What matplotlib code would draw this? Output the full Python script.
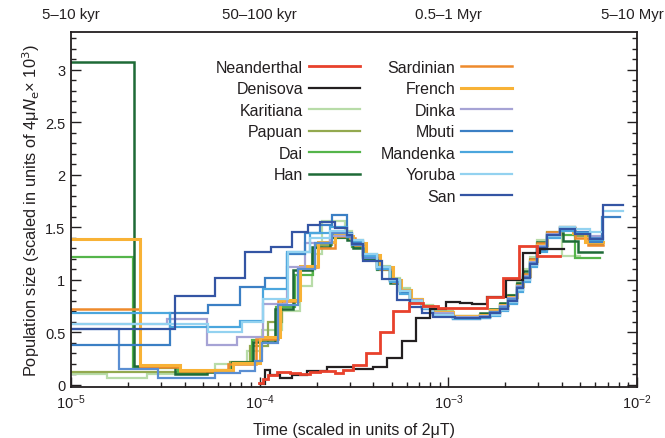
import matplotlib
matplotlib.use("Agg")
import matplotlib.pyplot as plt
import matplotlib.transforms as mtransforms
from matplotlib.lines import Line2D
from matplotlib.ticker import FixedLocator, MultipleLocator

plt.rcParams['font.family'] = ['Liberation Sans', 'DejaVu Sans']

# ---- data (time in units of 2uT, left edges + final right edge; size in 4uNe x 10^3) ----
nean_t = [9.90e-5, 1.04e-4, 1.11e-4, 1.23e-4, 1.45e-4, 1.64e-4, 1.85e-4, 2.09e-4, 2.50e-4, 2.77e-4,
          3.12e-4, 3.66e-4, 4.35e-4, 5.08e-4, 6.19e-4, 7.33e-4, 8.78e-4, 1.60e-3, 1.94e-3, 2.36e-3,
          2.95e-3, 3.90e-3]
nean_n = [0.02, 0.06, 0.09, 0.12, 0.11, 0.10, 0.12, 0.13, 0.11, 0.14, 0.19, 0.30, 0.50, 0.70, 0.78,
          0.75, 0.73, 0.84, 1.02, 1.32, 1.23]

deni_t = [1.00e-4, 1.07e-4, 1.14e-4, 1.28e-4, 1.48e-4, 1.78e-4, 2.27e-4, 3.12e-4, 3.98e-4, 4.71e-4,
          5.68e-4, 6.72e-4, 8.00e-4, 9.70e-4, 1.15e-3, 1.33e-3, 1.60e-3, 2.03e-3, 2.48e-3, 3.05e-3,
          4.10e-3]
deni_n = [0.01, 0.14, 0.09, 0.07, 0.09, 0.13, 0.17, 0.15, 0.17, 0.26, 0.42, 0.64, 0.72, 0.79, 0.78,
          0.77, 0.84, 1.00, 1.26, 1.29]

kari_t = [1.0e-5, 1.55e-5, 2.53e-5, 3.78e-5, 5.79e-5, 8.55e-5, 1.03e-4, 1.31e-4, 1.64e-4, 1.89e-4,
          2.14e-4, 2.83e-4, 3.08e-4, 3.52e-4, 4.18e-4, 4.91e-4, 5.55e-4, 6.27e-4, 7.24e-4, 8.28e-4,
          1.06e-3, 1.47e-3, 1.66e-3, 1.88e-3, 2.07e-3, 2.31e-3, 2.48e-3, 2.70e-3, 2.95e-3, 3.33e-3,
          4.00e-3, 4.98e-3]
kari_n = [0.10, 0.07, 0.10, 0.12, 0.20, 0.32, 0.52, 0.70, 0.94, 1.25, 1.56, 1.47, 1.38, 1.25, 1.13,
          1.02, 0.92, 0.82, 0.76, 0.70, 0.66, 0.67, 0.71, 0.77, 0.86, 0.98, 1.10, 1.22, 1.38, 1.41, 1.23]

papu_t = [1.0e-5, 3.78e-5, 5.79e-5, 6.97e-5, 8.90e-5, 1.11e-4, 1.31e-4, 1.59e-4, 1.96e-4, 2.42e-4,
          2.90e-4, 3.08e-4, 3.52e-4, 4.18e-4, 4.91e-4, 5.55e-4, 6.27e-4, 7.24e-4, 8.28e-4, 1.06e-3,
          1.47e-3, 1.66e-3, 1.88e-3, 2.07e-3, 2.31e-3, 2.48e-3, 2.70e-3, 2.95e-3, 3.33e-3, 3.90e-3,
          4.69e-3, 5.62e-3, 6.59e-3]
papu_n = [0.12, 0.12, 0.14, 0.22, 0.37, 0.60, 0.80, 1.10, 1.33, 1.44, 1.40, 1.33, 1.22, 1.11, 1.00,
          0.90, 0.81, 0.75, 0.69, 0.66, 0.67, 0.70, 0.76, 0.84, 0.95, 1.05, 1.17, 1.33, 1.46, 1.50,
          1.42, 1.33]

dai_t = [1.0e-5, 2.13e-5, 3.69e-5, 5.26e-5, 7.13e-5, 9.10e-5, 1.22e-4, 1.53e-4, 1.91e-4, 2.36e-4,
         2.83e-4, 3.08e-4, 3.52e-4, 4.18e-4, 4.91e-4, 5.55e-4, 6.27e-4, 7.24e-4, 8.28e-4, 1.06e-3,
         1.47e-3, 1.66e-3, 1.88e-3, 2.07e-3, 2.31e-3, 2.48e-3, 2.70e-3, 2.95e-3, 3.33e-3, 3.90e-3,
         4.69e-3, 6.35e-3]
dai_n = [1.22, 0.16, 0.11, 0.13, 0.20, 0.43, 0.74, 1.05, 1.30, 1.40, 1.40, 1.31, 1.21, 1.09, 0.99,
         0.89, 0.79, 0.74, 0.69, 0.65, 0.67, 0.71, 0.77, 0.85, 0.96, 1.06, 1.19, 1.35, 1.45, 1.43, 1.21]

han_t = [1.0e-5, 2.16e-5, 3.56e-5, 5.26e-5, 7.13e-5, 9.21e-5, 1.21e-4, 1.50e-4, 1.89e-4, 2.36e-4,
         2.90e-4, 3.12e-4, 3.52e-4, 4.18e-4, 4.91e-4, 5.55e-4, 6.27e-4, 7.24e-4, 8.28e-4, 1.06e-3,
         1.47e-3, 1.66e-3, 1.88e-3, 2.07e-3, 2.31e-3, 2.48e-3, 2.70e-3, 2.95e-3, 3.33e-3, 4.04e-3,
         4.86e-3, 6.52e-3]
han_n = [3.07, 0.18, 0.10, 0.12, 0.22, 0.41, 0.72, 1.09, 1.31, 1.41, 1.38, 1.30, 1.20, 1.10, 0.97,
         0.88, 0.80, 0.73, 0.68, 0.66, 0.68, 0.72, 0.78, 0.86, 0.97, 1.08, 1.20, 1.36, 1.45, 1.37, 1.27]

sard_t = [1.0e-5, 2.32e-5, 3.78e-5, 6.79e-5, 9.55e-5, 1.25e-4, 1.59e-4, 2.03e-4, 2.50e-4, 3.01e-4,
          3.20e-4, 3.66e-4, 4.35e-4, 5.08e-4, 5.61e-4, 6.34e-4, 7.24e-4, 8.28e-4, 1.06e-3, 1.47e-3,
          1.66e-3, 1.88e-3, 2.07e-3, 2.31e-3, 2.48e-3, 2.70e-3, 2.95e-3, 3.33e-3, 3.90e-3, 4.69e-3,
          5.50e-3, 6.59e-3]
sard_n = [0.72, 0.17, 0.13, 0.20, 0.44, 0.80, 1.12, 1.30, 1.42, 1.40, 1.33, 1.22, 1.10, 0.98, 0.89,
          0.80, 0.74, 0.68, 0.65, 0.66, 0.70, 0.76, 0.84, 0.95, 1.06, 1.20, 1.35, 1.46, 1.49, 1.40, 1.33]

fren_t = [1.0e-5, 2.32e-5, 3.78e-5, 7.20e-5, 1.00e-4, 1.28e-4, 1.64e-4, 2.03e-4, 2.50e-4, 2.90e-4,
          3.12e-4, 3.66e-4, 4.35e-4, 5.08e-4, 5.61e-4, 6.34e-4, 7.24e-4, 8.28e-4, 1.06e-3, 1.47e-3,
          1.66e-3, 1.88e-3, 2.07e-3, 2.31e-3, 2.48e-3, 2.70e-3, 2.95e-3, 3.33e-3, 3.90e-3, 4.57e-3,
          5.30e-3, 6.59e-3]
fren_n = [1.39, 0.19, 0.14, 0.21, 0.46, 0.81, 1.13, 1.36, 1.44, 1.42, 1.35, 1.24, 1.12, 1.00, 0.90,
          0.82, 0.75, 0.69, 0.66, 0.67, 0.71, 0.76, 0.84, 0.94, 1.04, 1.18, 1.33, 1.44, 1.50, 1.45, 1.36]

dink_t = [1.0e-5, 3.23e-5, 5.26e-5, 7.58e-5, 1.04e-4, 1.39e-4, 1.74e-4, 2.36e-4, 2.90e-4, 3.08e-4,
          3.52e-4, 4.18e-4, 4.91e-4, 5.55e-4, 6.27e-4, 7.24e-4, 8.28e-4, 1.06e-3, 1.47e-3, 1.66e-3,
          1.88e-3, 2.07e-3, 2.31e-3, 2.48e-3, 2.70e-3, 2.95e-3, 3.33e-3, 3.90e-3, 4.69e-3, 5.62e-3,
          6.59e-3]
dink_n = [0.58, 0.63, 0.38, 0.46, 0.77, 1.12, 1.35, 1.42, 1.41, 1.35, 1.24, 1.11, 0.99, 0.89, 0.81,
          0.74, 0.68, 0.65, 0.66, 0.69, 0.75, 0.83, 0.94, 1.04, 1.17, 1.32, 1.44, 1.50, 1.46, 1.42]

mbut_t = [1.0e-5, 3.35e-5, 5.32e-5, 7.87e-5, 1.07e-4, 1.39e-4, 1.74e-4, 2.09e-4, 2.42e-4, 2.90e-4,
          3.08e-4, 3.52e-4, 4.18e-4, 4.91e-4, 5.55e-4, 6.27e-4, 7.24e-4, 8.28e-4, 1.06e-3, 1.47e-3,
          1.66e-3, 1.88e-3, 2.07e-3, 2.31e-3, 2.48e-3, 2.70e-3, 2.95e-3, 3.33e-3, 3.90e-3, 4.69e-3,
          5.62e-3, 6.52e-3, 8.11e-3]
mbut_n = [0.38, 0.68, 0.76, 0.93, 1.02, 1.25, 1.45, 1.52, 1.62, 1.45, 1.36, 1.24, 1.12, 1.00, 0.88,
          0.79, 0.72, 0.67, 0.63, 0.64, 0.67, 0.71, 0.78, 0.90, 1.00, 1.14, 1.28, 1.42, 1.49, 1.46,
          1.36, 1.60]

# second medium-blue trace seen in the figure (not named in the legend)
mbut2_t = [1.0e-5, 1.80e-5, 2.89e-5, 5.79e-5, 7.87e-5, 9.44e-5, 1.03e-4, 1.25e-4, 1.59e-4, 1.96e-4,
           2.42e-4, 2.90e-4, 3.08e-4, 3.52e-4, 4.18e-4, 4.91e-4, 5.55e-4, 6.27e-4, 7.24e-4, 8.28e-4,
           1.06e-3, 1.47e-3, 1.66e-3, 1.88e-3, 2.07e-3, 2.31e-3, 2.48e-3, 2.70e-3, 2.95e-3, 3.33e-3,
           3.90e-3, 4.69e-3, 5.62e-3, 6.59e-3]
mbut2_n = [0.53, 0.15, 0.07, 0.11, 0.13, 0.23, 0.40, 0.76, 1.10, 1.35, 1.45, 1.41, 1.33, 1.21, 1.10,
           0.99, 0.89, 0.80, 0.73, 0.67, 0.64, 0.65, 0.69, 0.74, 0.82, 0.93, 1.03, 1.16, 1.31, 1.43,
           1.49, 1.45, 1.40]

mand_t = [1.0e-5, 3.35e-5, 7.87e-5, 1.04e-4, 1.39e-4, 1.85e-4, 2.36e-4, 2.90e-4, 3.08e-4, 3.52e-4,
          4.18e-4, 4.91e-4, 5.55e-4, 6.27e-4, 7.24e-4, 8.28e-4, 1.06e-3, 1.47e-3, 1.66e-3, 1.88e-3,
          2.07e-3, 2.31e-3, 2.48e-3, 2.70e-3, 2.95e-3, 3.33e-3, 3.90e-3, 4.69e-3, 5.62e-3, 6.59e-3]
mand_n = [0.68, 0.55, 0.61, 0.91, 1.27, 1.45, 1.50, 1.44, 1.37, 1.23, 1.10, 0.98, 0.87, 0.79, 0.72,
          0.66, 0.63, 0.64, 0.66, 0.70, 0.77, 0.88, 0.98, 1.12, 1.27, 1.40, 1.47, 1.45, 1.38]

yoru_t = [1.0e-5, 5.32e-5, 8.06e-5, 1.04e-4, 1.41e-4, 1.85e-4, 2.36e-4, 2.90e-4, 3.08e-4, 3.52e-4,
          4.18e-4, 4.91e-4, 5.55e-4, 6.27e-4, 7.24e-4, 8.28e-4, 1.06e-3, 1.47e-3, 1.66e-3, 1.88e-3,
          2.07e-3, 2.31e-3, 2.48e-3, 2.70e-3, 2.95e-3, 3.33e-3, 3.90e-3, 4.69e-3, 5.62e-3, 6.59e-3,
          8.41e-3]
yoru_n = [0.58, 0.50, 0.60, 0.82, 1.27, 1.40, 1.47, 1.44, 1.38, 1.25, 1.12, 1.00, 0.89, 0.80, 0.73,
          0.67, 0.64, 0.65, 0.67, 0.71, 0.79, 0.90, 1.00, 1.14, 1.29, 1.42, 1.50, 1.48, 1.46, 1.66]

san_t = [1.0e-5, 3.56e-5, 5.79e-5, 8.36e-5, 1.15e-4, 1.48e-4, 1.80e-4, 2.09e-4, 2.50e-4, 2.90e-4,
         3.08e-4, 3.52e-4, 4.45e-4, 5.34e-4, 6.27e-4, 7.24e-4, 8.28e-4, 1.08e-3, 1.47e-3, 1.66e-3,
         1.88e-3, 2.07e-3, 2.31e-3, 2.48e-3, 2.70e-3, 2.95e-3, 3.33e-3, 3.90e-3, 4.69e-3, 5.62e-3,
         6.59e-3, 8.41e-3]
san_n = [0.53, 0.85, 1.02, 1.27, 1.31, 1.46, 1.52, 1.55, 1.49, 1.43, 1.34, 1.18, 1.01, 0.81, 0.74,
         0.68, 0.65, 0.64, 0.65, 0.68, 0.72, 0.80, 0.92, 1.02, 1.15, 1.30, 1.43, 1.48, 1.44, 1.39, 1.71]

names_col1 = ['Neanderthal', 'Denisova', 'Karitiana', 'Papuan', 'Dai', 'Han']
names_col2 = ['Sardinian', 'French', 'Dinka', 'Mbuti', 'Mandenka', 'Yoruba', 'San']
top_tick_labels = ['5\u201310 kyr', '50\u2013100 kyr', '0.5\u20131 Myr', '5\u201310 Myr']
top_tick_pos = [1e-5, 1e-4, 1e-3, 1e-2]

series = {
    'Neanderthal': (nean_t, nean_n, '#e8412c', 2.0),
    'Denisova': (deni_t, deni_n, '#231f20', 1.6),
    'Karitiana': (kari_t, kari_n, '#b8dca8', 1.6),
    'Papuan': (papu_t, papu_n, '#93a94f', 1.6),
    'Dai': (dai_t, dai_n, '#55b54a', 1.6),
    'Han': (han_t, han_n, '#1e6a37', 1.8),
    'Sardinian': (sard_t, sard_n, '#ee8a2c', 1.8),
    'French': (fren_t, fren_n, '#f8b236', 2.2),
    'Dinka': (dink_t, dink_n, '#a6a3d5', 1.6),
    'Mbuti': (mbut_t, mbut_n, '#3b7fc4', 1.6),
    '_mbuti2': (mbut2_t, mbut2_n, '#5a8ed2', 1.6),
    'Mandenka': (mand_t, mand_n, '#4ba6dd', 1.6),
    'Yoruba': (yoru_t, yoru_n, '#93d2f0', 1.6),
    'San': (san_t, san_n, '#3455a4', 1.6),
}

fig = plt.figure(figsize=(6.65, 4.39), dpi=100)
ax = fig.add_axes([0.1068, 0.1162, 0.8512, 0.8086])

draw_order = ['Karitiana', 'Papuan', 'Dai', 'Han', 'Sardinian', 'French', 'Dinka', '_mbuti2',
              'Mbuti', 'Mandenka', 'Yoruba', 'San', 'Denisova', 'Neanderthal']
handles = {}
for name in draw_order:
    t, n, c, lw = series[name]
    h, = ax.plot(t, list(n) + [n[-1]], drawstyle='steps-post', color=c, lw=lw,
                 solid_joinstyle='miter', label=name)
    handles[name] = h

ax.set_xscale('log')
ax.set_xlim(1e-5, 1e-2)
ax.set_ylim(-0.02, 3.36)

ax.yaxis.set_major_locator(MultipleLocator(0.5))
ax.yaxis.set_minor_locator(MultipleLocator(0.1))
ax.set_yticks([0, 0.5, 1, 1.5, 2, 2.5, 3])
ax.set_yticklabels(['0', '0.5', '1', '1.5', '2', '2.5', '3'])

for s in ax.spines.values():
    s.set_linewidth(1.3)
    s.set_color('#231f20')

ax.tick_params(which='both', direction='in', top=True, right=True, labeltop=False,
               color='#231f20', width=1.0, labelsize=10.5, labelcolor='#231f20')
ax.tick_params(which='major', length=7, pad=4)
ax.tick_params(which='minor', length=3.5)

ax.set_xlabel('Time (scaled in units of 2\u03bcT)', fontsize=11.5, color='#231f20', labelpad=8)
ax.set_ylabel('Population size (scaled in units of 4\u03bc$N_{\\rm e}$\u00d7 10$^{3}$)',
              fontsize=11.8, color='#231f20', labelpad=2)

top = ax.twiny()
top.set_xscale('log')
top.set_xlim(ax.get_xlim())
top.xaxis.set_major_locator(FixedLocator(top_tick_pos))
top.xaxis.set_minor_locator(FixedLocator([]))
top.set_xticklabels(top_tick_labels)
top.tick_params(which='both', direction='in', length=0, pad=8, labelsize=10.8,
                labelcolor='#231f20')
for s in top.spines.values():
    s.set_visible(False)
# nudge the right-most top label so it stays inside the figure
last_lab = top.get_xticklabels()[-1]
last_lab.set_transform(last_lab.get_transform() +
                       mtransforms.ScaledTranslation(-5 / 100, 0, fig.dpi_scale_trans))

blank = Line2D([], [], color='none')
leg_handles = [handles[n] for n in names_col1] + [blank] + [handles[n] for n in names_col2]
leg_labels = names_col1 + [''] + names_col2
leg = ax.legend(leg_handles, leg_labels, ncol=2, markerfirst=False, frameon=False,
                loc='upper left', bbox_to_anchor=(0.245, 0.94), fontsize=11.5,
                handlelength=3.2, handletextpad=0.35, columnspacing=1.3, labelspacing=0.41,
                borderaxespad=0)
for txt in leg.get_texts():
    txt.set_color('#231f20')

fig.savefig('out.png', dpi=100)
